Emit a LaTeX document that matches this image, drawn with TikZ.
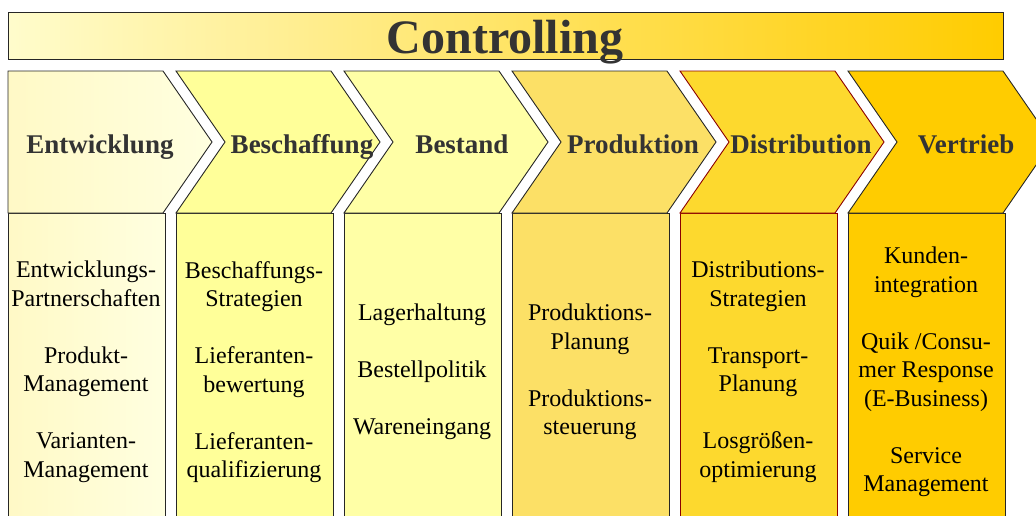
\documentclass[tikz,border=0pt]{standalone}
\usepackage{fontspec}
\setmainfont{Liberation Serif}
\definecolor{creamA}{HTML}{FFF9C6}
\definecolor{creamB}{HTML}{FFFFE0}
\definecolor{yellowB}{HTML}{FFFF99}
\definecolor{yellowC}{HTML}{FFFFA6}
\definecolor{goldA}{HTML}{FCE066}
\definecolor{goldB}{HTML}{FDD92E}
\definecolor{goldC}{HTML}{FFCC00}
\definecolor{bannerA}{HTML}{FFFCCC}
\definecolor{bannerM}{HTML}{FEEAA4}
\definecolor{darkgrey}{HTML}{333333}
\definecolor{darkred}{HTML}{8B0000}

\begin{document}
\begin{tikzpicture}[x=1pt,y=-1pt]
    \tikzset{phase/.style={draw=black!85,line width=0.9pt,line join=miter},
             head/.style={font=\fontsize{27}{30}\selectfont\bfseries,text=darkgrey,anchor=base},
             body/.style={font=\fontsize{24}{28.5}\selectfont,align=center}}
    \useasboundingbox (0,0) rectangle (1036,515);
    % banner
    \path[phase,left color=bannerA,middle color=bannerM,right color=goldC] (8,12) rectangle (1003,59);
    \node[font=\fontsize{48}{50}\selectfont\bfseries,text=darkgrey,anchor=base] (ctrl) at (505,53) {Controlling};
    % columns
    \path[phase,left color=creamA,right color=creamB] (8,213) rectangle ++(157,320);
    \path[phase,left color=creamA,right color=creamB] (8,71) -- ++(155,0) -- ++(49,71) -- ++(-49,71) -- ++(-155,0) -- cycle;
    \foreach \x/\c/\d in {176/yellowB/black!85,344/yellowC/black!85,512/goldA/black!85,680/goldB/darkred,848/goldC/black!85}
    {
      \filldraw[phase,fill=\c,draw=\d] (\x,213) rectangle ++(157,320);
      \filldraw[phase,fill=\c,draw=\d] (\x,71) -- ++(155,0) -- ++(49,71) -- ++(-49,71) -- ++(-155,0) -- ++(49,-71) -- cycle;
    }
    % headings
    \node[head] (entw) at (100,153) {Entwicklung};
    \node[head] (besch) at (302,153) {Beschaffung};
    \node[head] (best) at (462,153) {Bestand};
    \node[head] (prod) at (633,153) {Produktion};
    \node[head] (distr) at (801,153) {Distribution};
    \node[head] (vertr) at (966,153) {Vertrieb};
    % contents
    \node[body] (entwb) at (86,372) {Entwicklungs-\\Partnerschaften\\[28.5pt]Produkt-\\Management\\[28.5pt]Varianten-\\Management};
    \node[body] (beschb) at (254,372) {Beschaffungs-\\Strategien\\[28.5pt]Lieferanten-\\bewertung\\[28.5pt]Lieferanten-\\qualifizierung};
    \node[body] (bestb) at (422,372) {Lagerhaltung\\[28.5pt]Bestellpolitik\\[28.5pt]Wareneingang};
    \node[body] (prodb) at (590,372) {Produktions-\\Planung\\[28.5pt]Produktions-\\steuerung};
    \node[body] (distrb) at (758,372) {Distributions-\\Strategien\\[28.5pt]Transport-\\Planung\\[28.5pt]Losgrößen-\\optimierung};
    \node[body] (vertrb) at (926,372) {Kunden-\\integration\\[28.5pt]Quik /Consu-\\mer Response\\(E-Business)\\[28.5pt]Service\\Management};
\end{tikzpicture}
\end{document}
